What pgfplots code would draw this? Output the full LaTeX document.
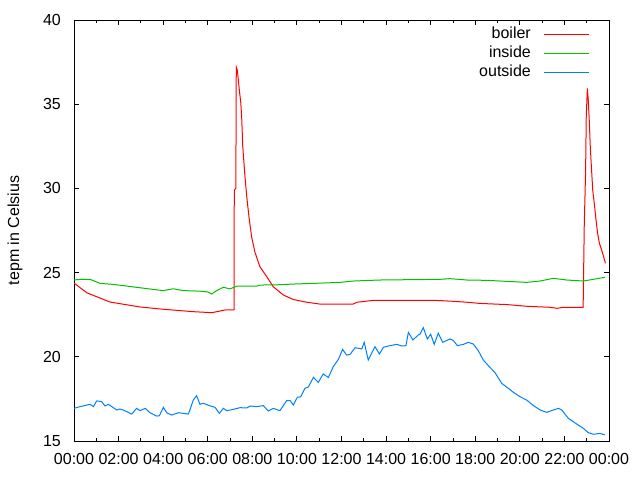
\documentclass[border=0pt]{standalone}
\usepackage{fontspec}
\setmainfont{Liberation Sans}
\usepackage{pgfplots}
\pgfplotsset{compat=1.18}
\definecolor{gpred}{RGB}{255,0,0}
\definecolor{gpgreen}{RGB}{0,192,0}
\definecolor{gpblue}{RGB}{0,128,255}
\begin{document}
\fontsize{16bp}{19bp}\selectfont
\begin{tikzpicture}
\path[use as bounding box] (0,0) rectangle (640bp,480bp);
\begin{axis}[
  at={(74bp,39bp)}, anchor=south west,
  scale only axis, width=535bp, height=421bp,
  xmin=0, xmax=24, ymin=15, ymax=40,
  xtick={0,2,...,24},
  xticklabels={00:00,02:00,04:00,06:00,08:00,10:00,12:00,14:00,16:00,18:00,20:00,22:00,00:00},
  minor x tick num=1,
  ytick={15,20,...,40},
  tick align=inside,
  major tick length=5bp, minor tick length=3bp,
  axis line style={line width=0.9bp},
  every tick/.style={black,line width=0.9bp},
  /pgf/number format/assume math mode=true,
  yticklabel style={inner sep=0pt, xshift=-13bp},
  xticklabel style={inner sep=0pt, yshift=-12bp},
  ylabel={tepm in Celsius},
  ylabel style={at={(rel axis cs:0,0.5)}, anchor=center, yshift=59bp},
  legend plot pos=right,
  legend cell align=right,
  legend image code/.code={\draw[#1,line width=1bp] (0bp,0bp) -- (45bp,0bp);},
  legend style={draw=none, fill=none, at={(0.9645,0.985)}, anchor=north east,
    inner sep=0pt, column sep=13bp, row sep=3bp,
    nodes={inner sep=0pt, text height=12bp, text depth=4bp}},
  clip=true,
]
\addplot[gpred, line width=1bp] coordinates {
(0,24.38)(0.58,23.8)(1.62,23.25)(2.96,22.96)(3.86,22.84)(5.34,22.68)(6.19,22.62)(6.77,22.78)(7.13,22.78)
(7.18,22.8)(7.19,29.9)(7.26,30.0)(7.28,37.2)(7.33,37.0)(7.42,35.8)(7.48,35.1)(7.52,34.3)(7.57,32.5)(7.67,30.7)
(7.75,29.5)(7.85,28.3)(7.97,27.1)(8.12,26.2)(8.34,25.35)(8.65,24.75)(8.94,24.16)(9.39,23.67)(9.84,23.4)
(10.44,23.24)(11.04,23.13)(12.52,23.13)(12.7,23.24)(13.41,23.35)(16.2,23.35)(16.96,23.3)(17.63,23.24)
(18.21,23.17)(19.43,23.1)(20.32,23.0)(21.35,22.94)(21.67,22.88)(21.94,22.94)(22.84,22.94)
(22.89,27.8)(22.95,31.0)(22.98,34.3)(23.03,35.94)(23.07,35.25)(23.12,33.87)(23.16,32.48)(23.21,31.29)
(23.27,29.9)(23.34,29.1)(23.42,28.1)(23.49,27.33)(23.57,26.74)(23.67,26.34)(23.78,25.85)(23.84,25.55)
};
\addlegendentry{boiler}
\addplot[gpgreen, line width=1bp] coordinates {
(0,24.56)(0.27,24.6)(0.72,24.6)(1.17,24.36)(1.76,24.3)(2.36,24.2)(3.56,24.0)(4.0,23.93)(4.45,24.04)
(4.9,23.93)(5.65,23.9)(6.0,23.85)(6.18,23.73)(6.4,23.93)(6.7,24.13)(7.0,24.03)(7.3,24.2)(8.21,24.2)
(8.34,24.26)(9.24,24.28)(9.84,24.32)(10.74,24.36)(11.93,24.42)(12.53,24.5)(13.73,24.56)(16.42,24.6)
(16.87,24.64)(17.62,24.56)(18.52,24.54)(19.41,24.48)(20.31,24.42)(20.91,24.5)(21.5,24.66)(22.1,24.56)
(22.85,24.5)(23.3,24.6)(23.82,24.72)
};
\addlegendentry{inside}
\addplot[gpblue, line width=1bp] coordinates {
(0,16.94)(0.27,17.04)(0.72,17.18)(0.87,17.04)(1.02,17.38)(1.24,17.34)(1.39,17.08)(1.54,17.18)(1.92,16.84)
(2.06,16.9)(2.21,16.84)(2.59,16.6)(2.81,16.94)(2.96,16.8)(3.19,16.94)(3.41,16.68)(3.71,16.48)(3.83,16.5)
(4.01,17.0)(4.16,16.68)(4.38,16.54)(4.68,16.68)(5.13,16.6)(5.2,16.84)(5.35,17.43)(5.5,17.69)(5.65,17.18)
(5.8,17.24)(6.03,17.12)(6.33,17.0)(6.52,16.64)(6.7,16.94)(6.85,16.8)(7.15,16.88)(7.45,16.98)(7.75,16.96)
(7.9,17.08)(8.2,17.04)(8.49,17.1)(8.72,16.78)(8.94,16.94)(9.24,16.8)(9.54,17.4)(9.69,17.4)(9.84,17.14)
(10.02,17.6)(10.17,17.62)(10.36,18.13)(10.51,18.2)(10.74,18.78)(10.96,18.48)(11.18,18.98)(11.41,18.77)
(11.63,19.41)(11.86,19.85)(12.05,20.44)(12.23,20.1)(12.38,20.14)(12.61,20.54)(12.91,20.47)(13.02,20.86)
(13.2,19.81)(13.5,20.6)(13.7,20.17)(13.88,20.56)(14.1,20.64)(14.48,20.74)(14.7,20.64)(14.89,20.66)
(15.0,21.45)(15.2,21.0)(15.45,21.3)(15.52,21.34)(15.67,21.73)(15.85,21.06)(16.0,21.34)(16.16,20.74)
(16.34,21.4)(16.54,20.86)(16.87,21.06)(17.02,20.96)(17.2,20.66)(17.47,20.74)(17.69,20.86)(17.91,20.76)
(18.14,20.36)(18.36,19.81)(18.66,19.37)(18.89,19.05)(19.19,18.42)(19.48,18.13)(19.71,17.89)(20.01,17.63)
(20.31,17.43)(20.61,17.1)(20.91,16.84)(21.21,16.7)(21.5,16.84)(21.73,16.94)(21.88,16.84)(22.18,16.34)
(22.55,16.01)(22.85,15.75)(23.07,15.5)(23.3,15.4)(23.6,15.45)(23.82,15.36)
};
\addlegendentry{outside}
\end{axis}
\end{tikzpicture}
\end{document}
